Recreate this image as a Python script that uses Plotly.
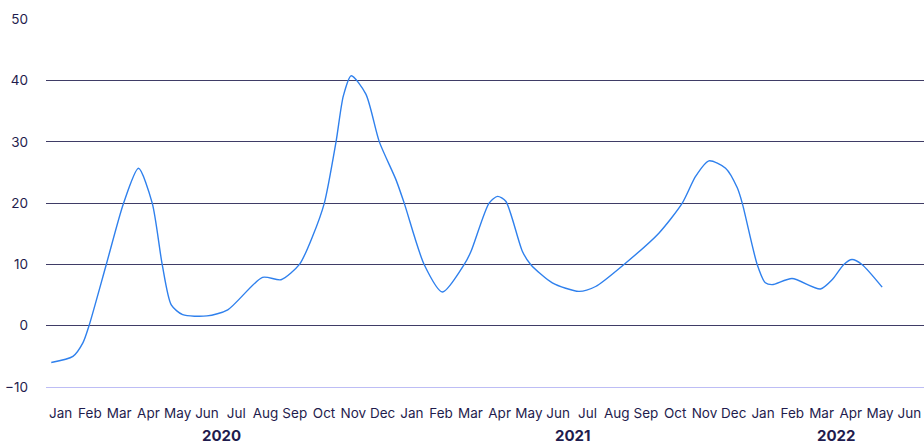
import plotly.graph_objects as go

months = ["Jan", "Feb", "Mar", "Apr", "May", "Jun", "Jul", "Aug", "Sep", "Oct", "Nov", "Dec",
          "Jan", "Feb", "Mar", "Apr", "May", "Jun", "Jul", "Aug", "Sep", "Oct", "Nov", "Dec",
          "Jan", "Feb", "Mar", "Apr", "May", "Jun"]
years = ["2020", "2021", "2022"]
year_pos = [5.5, 17.5, 26.5]

# x = month index (0 = Jan 2020), y = value
x_vals = [-0.32, 0.42, 0.76, 0.97, 1.56, 2.15, 2.66, 3.13, 3.47, 3.78, 4.17, 5.0,
          5.71, 6.9, 7.53, 8.16, 8.61, 9.01, 9.41, 9.66, 9.93, 10.43,
          10.89, 11.46, 11.74, 12.42, 13.05, 13.79, 14.02, 14.64, 14.93, 15.21, 15.78,
          16.06, 16.8, 17.71, 18.28, 19.25, 20.44, 21.24, 21.7, 22.15, 22.72, 23.12,
          23.29, 23.8, 24.08, 24.31, 24.99, 25.96, 26.36, 26.76, 27.04, 27.38, 28.07]
y_vals = [-6.0, -5.0, -2.8, 0.0, 10.0, 20.0, 25.7, 20.0, 10.0, 3.4, 1.8, 1.6,
          2.6, 7.9, 7.5, 10.0, 14.6, 20.0, 30.0, 37.5, 40.8, 37.8,
          30.0, 23.8, 20.0, 10.0, 5.5, 10.0, 12.1, 20.0, 21.1, 20.3, 12.1,
          10.0, 7.0, 5.6, 6.4, 10.0, 15.1, 20.0, 24.4, 26.9, 25.7, 22.5,
          20.0, 10.0, 7.0, 6.7, 7.7, 6.0, 7.5, 10.0, 10.8, 10.0, 6.3]

ink = "#1f1c4d"

fig = go.Figure()
fig.add_trace(go.Scatter(
    x=x_vals, y=y_vals, mode="lines",
    line=dict(color="#2f80ed", width=1.4, shape="spline", smoothing=0.7),
    hoverinfo="skip", showlegend=False,
))

for yr, pos in zip(years, year_pos):
    fig.add_annotation(x=pos, y=-0.131, xref="x", yref="paper", text=f"<b>{yr}</b>",
                       showarrow=False, font=dict(size=15, color=ink, family="Inter"),
                       yanchor="middle")

fig.update_layout(
    width=924, height=445,
    margin=dict(l=46, r=0, t=19, b=58, autoexpand=False),
    plot_bgcolor="white", paper_bgcolor="white",
    font=dict(family="Inter", size=13, color=ink),
    xaxis=dict(
        range=[-0.5, 29.5], tickmode="array", tickvals=list(range(len(months))),
        ticktext=months, showgrid=False, zeroline=False, showline=True,
        linecolor="#bdbdf5", linewidth=1, ticks="", ticklabelstandoff=14,
        tickfont=dict(size=13.5, color=ink), fixedrange=True, automargin=False,
    ),
    yaxis=dict(
        range=[-10, 50.05], tickmode="array", tickvals=[-10, 0, 10, 20, 30, 40, 50],
        showgrid=True, gridcolor="#3f3c66", gridwidth=1, zeroline=False,
        showline=False, ticks="", ticklabelstandoff=17,
        tickfont=dict(size=13.5, color=ink), fixedrange=True, automargin=False,
    ),
)

page_css = ("document.body.style.margin='0';"
            "document.body.style.overflow='hidden';"
            "document.documentElement.style.overflow='hidden';")
fig.write_html("out.html", post_script=page_css, config={"displayModeBar": False})
